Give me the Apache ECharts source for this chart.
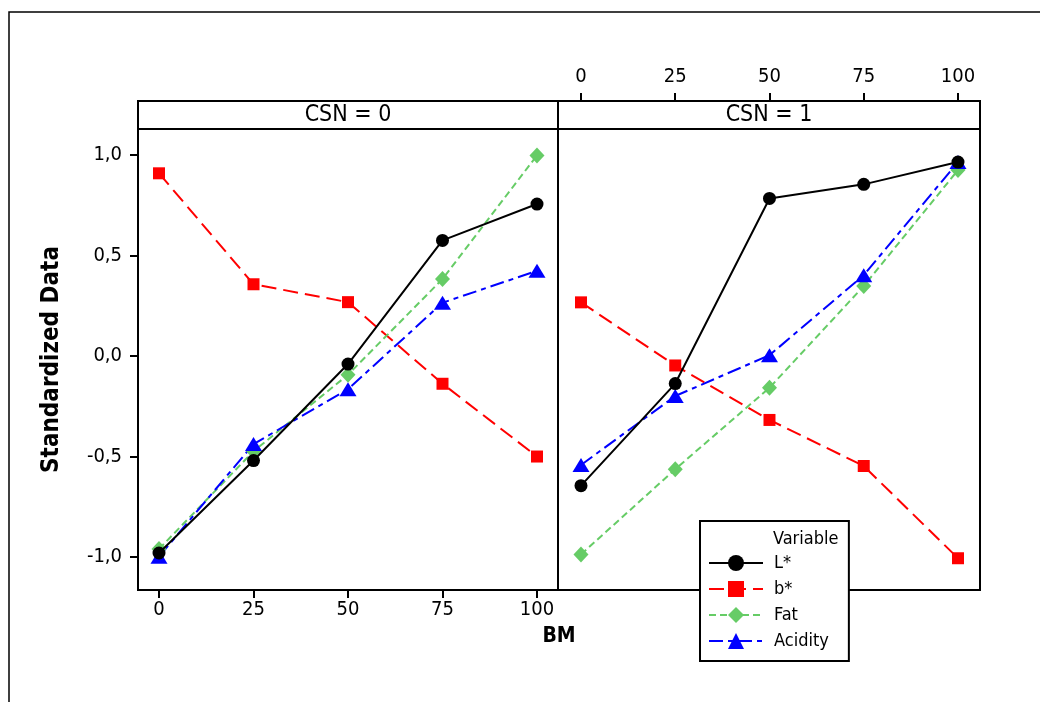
<!DOCTYPE html>
<html>
<head>
<meta charset="utf-8">
<script src="https://cdn.jsdelivr.net/npm/echarts@6/dist/echarts.min.js"></script>
<style>
  html, body { margin: 0; padding: 0; background: #fff; }
  #chart { width: 1040px; height: 702px; }
</style>
</head>
<body>
<div id="chart"></div>
<script>
  // BM levels (x values) and tick labels
  const bmValues = [0, 25, 50, 75, 100]
  const yTicks = [-1, -0.5, 0, 0.5, 1]
  const panelTitles = ['CSN = 0', 'CSN = 1']
  const variables = ['L*', 'b*', 'Fat', 'Acidity']

  // CSN = 0
  const lStar0 = [-0.98, -0.52, -0.04, 0.575, 0.756]
  const bStar0 = [0.909, 0.357, 0.268, -0.138, -0.5]
  const fat0 = [-0.96, -0.474, -0.093, 0.383, 0.998]
  const acidity0 = [-0.998, -0.438, -0.165, 0.265, 0.424]

  // CSN = 1
  const lStar1 = [-0.645, -0.137, 0.784, 0.854, 0.965]
  const bStar1 = [0.267, -0.047, -0.318, -0.547, -1.006]
  const fat1 = [-0.987, -0.563, -0.158, 0.348, 0.925]
  const acidity1 = [-0.542, -0.199, 0.004, 0.402, 0.965]

  const font = "'DejaVu Sans Condensed', 'DejaVu Sans', sans-serif"
  const black = '#000'

  const styles = {
    'L*': { color: '#000000', symbol: 'circle', symbolSize: 13, type: 'solid' },
    'b*': { color: '#ff0000', symbol: 'rect', symbolSize: 12, type: [15, 7] },
    'Fat': { color: '#66cc66', symbol: 'diamond', symbolSize: [15, 16], type: [7, 4] },
    'Acidity': { color: '#0000ff', symbol: 'triangle', symbolSize: [17, 14], type: [14, 5, 5, 5] }
  }

  const panels = [
    { 'L*': lStar0, 'b*': bStar0, 'Fat': fat0, 'Acidity': acidity0 },
    { 'L*': lStar1, 'b*': bStar1, 'Fat': fat1, 'Acidity': acidity1 }
  ]

  const series = []
  panels.forEach((panel, p) => {
    variables.forEach((name) => {
      const s = styles[name]
      series.push({
        type: 'line',
        name: name,
        xAxisIndex: p,
        yAxisIndex: p,
        data: bmValues.map((x, i) => [x, panel[name][i]]),
        symbol: s.symbol,
        symbolSize: s.symbolSize,
        itemStyle: { color: s.color },
        lineStyle: { color: s.color, width: 2, type: s.type },
        z: name === 'L*' ? 3 : 2
      })
    })
  })

  const tickLabel = { fontFamily: font, fontSize: 20, color: black }
  const axisLine = { show: true, onZero: false, lineStyle: { color: black, width: 2 } }
  const tickLine = { color: black, width: 2 }

  const option = {
    animation: false,
    backgroundColor: '#fff',
    grid: [
      { left: 138, top: 129, width: 420, height: 461, show: true, borderColor: black, borderWidth: 2 },
      { left: 558, top: 129, width: 422, height: 461, show: true, borderColor: black, borderWidth: 2 }
    ],
    xAxis: [
      {
        gridIndex: 0, type: 'value', position: 'bottom', min: -5.556, max: 105.556,
        splitLine: { show: false },
        axisLine: axisLine,
        axisTick: { show: true, length: 8, customValues: bmValues, lineStyle: tickLine },
        axisLabel: { ...tickLabel, margin: 10, customValues: bmValues }
      },
      {
        gridIndex: 1, type: 'value', position: 'top', offset: 28, min: -6.1, max: 105.84,
        splitLine: { show: false },
        axisLine: axisLine,
        axisTick: { show: true, length: 8, customValues: bmValues, lineStyle: tickLine },
        axisLabel: { ...tickLabel, margin: 14, customValues: bmValues }
      }
    ],
    yAxis: [
      {
        gridIndex: 0, type: 'value', min: -1.164, max: 1.1294,
        name: 'Standardized Data', nameLocation: 'middle', nameGap: 74,
        nameTextStyle: { fontFamily: font, fontSize: 24, fontWeight: 'bold', color: black },
        splitLine: { show: false },
        axisLine: axisLine,
        axisTick: { show: true, length: 8, customValues: yTicks, lineStyle: tickLine },
        axisLabel: {
          ...tickLabel, margin: 16, customValues: yTicks,
          formatter: (v) => v.toFixed(1).replace('.', ',')
        }
      },
      {
        gridIndex: 1, type: 'value', min: -1.164, max: 1.1294, show: false
      }
    ],
    legend: {
      data: variables,
      orient: 'vertical',
      left: 700,
      top: 521,
      padding: [32, 20, 10, 8],
      itemWidth: 54,
      itemHeight: 20,
      itemGap: 6,
      backgroundColor: '#fff',
      borderColor: black,
      borderWidth: 2,
      borderRadius: 0,
      selectedMode: false,
      textStyle: { fontFamily: font, fontSize: 18, color: black, lineHeight: 20, padding: [0, 0, 0, 6] },
      z: 10
    },
    graphic: [
      // outer frame lines
      { type: 'polyline', z: 50, shape: { points: [[9, 702], [9, 12], [1040, 12]] }, style: { stroke: black, lineWidth: 1.5, fill: null } },
      // panel header strip
      { type: 'rect', z: 50, shape: { x: 138, y: 101, width: 842, height: 28 }, style: { fill: '#fff', stroke: black, lineWidth: 2 } },
      { type: 'line', z: 51, shape: { x1: 558, y1: 101, x2: 558, y2: 129 }, style: { stroke: black, lineWidth: 2 } },
      { type: 'text', z: 52, x: 348, y: 115, style: { text: panelTitles[0], font: "23px " + font, fill: black, align: 'center', verticalAlign: 'middle' } },
      { type: 'text', z: 52, x: 769, y: 115, style: { text: panelTitles[1], font: "23px " + font, fill: black, align: 'center', verticalAlign: 'middle' } },
      // x axis title
      { type: 'text', z: 52, x: 559, y: 637, style: { text: 'BM', font: "bold 21px " + font, fill: black, align: 'center', verticalAlign: 'middle' } },
      // legend title
      { type: 'text', z: 52, x: 773, y: 539, style: { text: 'Variable', font: "18px " + font, fill: black, align: 'left', verticalAlign: 'middle' } }
    ],
    series: series
  }

  const chart = echarts.init(document.getElementById('chart'))
  chart.setOption(option)
</script>
</body>
</html>
